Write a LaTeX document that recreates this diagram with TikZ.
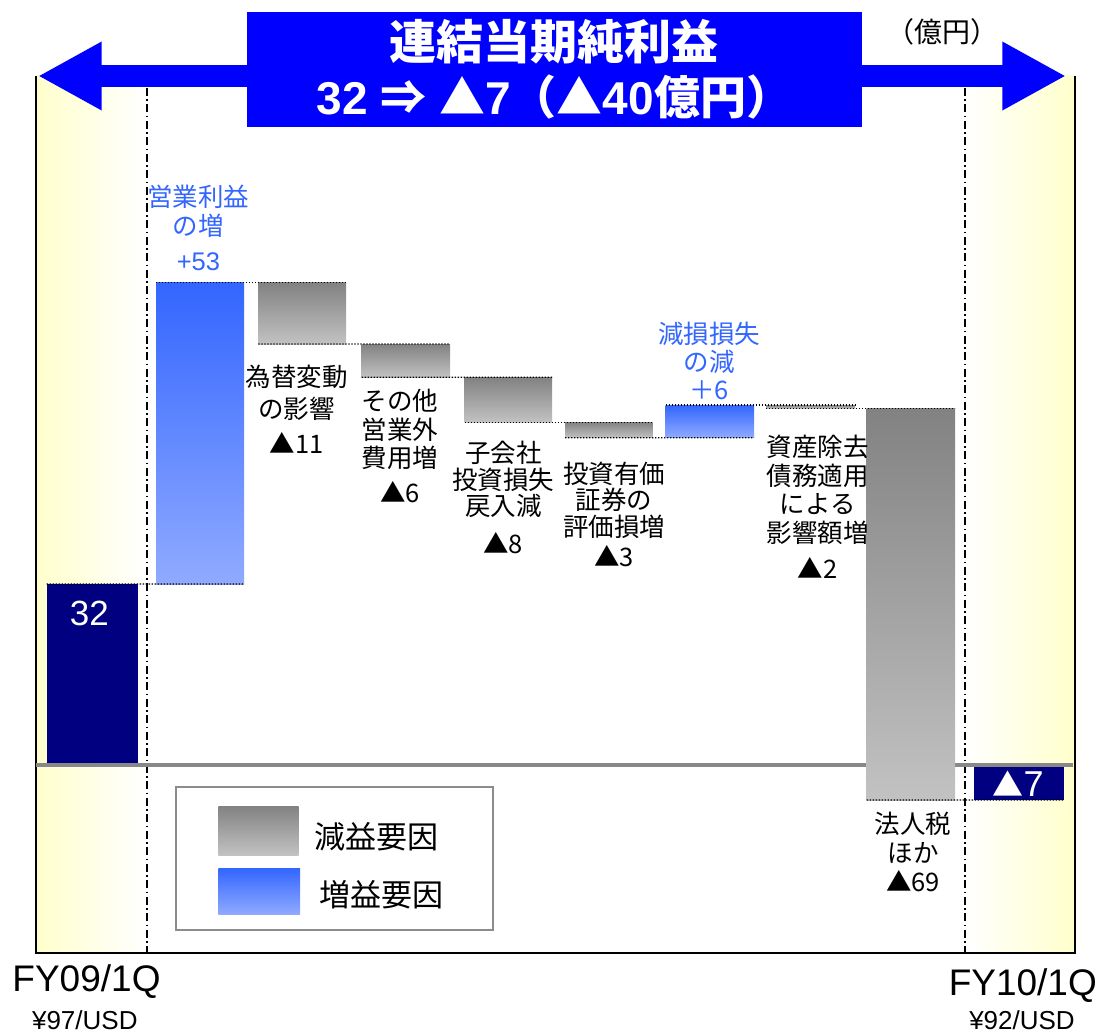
\documentclass[tikz,border=0pt]{standalone}
\usepackage{fontspec}
\setmainfont{Liberation Sans}
\newfontfamily\jp{Noto Sans CJK JP}
\usetikzlibrary{arrows.meta}
\definecolor{titleblue}{HTML}{0000FF}
\definecolor{navybar}{HTML}{000080}
\definecolor{decTop}{HTML}{828282}
\definecolor{decBot}{HTML}{C2C2C2}
\definecolor{incTop}{HTML}{3366FF}
\definecolor{incBot}{HTML}{90AAFF}
\definecolor{bandY}{HTML}{FFFFCC}
\definecolor{baseGray}{HTML}{888888}
\definecolor{labBlue}{HTML}{3366FF}
\definecolor{legGray}{HTML}{8C8C8C}
\begin{document}
\begin{tikzpicture}[x=1pt,y=-1pt,
  barnode/.style={inner sep=0pt, outer sep=0pt, anchor=north west},
  decbar/.style={barnode, top color=decTop, bottom color=decBot},
  incbar/.style={barnode, top color=incTop, bottom color=incBot},
  totbar/.style={barnode, fill=navybar},
  conn/.style={black, line width=1.3pt, dash pattern=on 1.3pt off 1.7pt},
  dashdot/.style={black, line width=2pt, dash pattern=on 8pt off 3.5pt on 1.5pt off 3.5pt},
  lab/.style={align=center, inner sep=0pt, anchor=north},
  bluearrow/.style={titleblue, line width=22.4pt, -{Triangle[length=63.7pt,width=64pt]}},
]
\useasboundingbox (0,0) rectangle (1097,1035);
% background bands
\fill[left color=bandY, right color=white] (36,76) rectangle (146.7,953);
\fill[left color=white, right color=bandY] (965,76) rectangle (1075,953);
% frame
\draw[line width=2pt] (36,76) -- (36,953) -- (1075,953) -- (1075,76);
% dash-dot lines
\draw[dashdot] (146.7,88) -- (146.7,953);
\draw[dashdot] (965,88) -- (965,953);
% zero line
\draw[baseGray, line width=4pt] (36,765) -- (1073,765);
% bars
\node[totbar, minimum width=91.6pt, minimum height=179pt] (b1) at (46.7,584) {};
\node[incbar, minimum width=88pt, minimum height=301.3pt] (b2) at (156,282.7) {};
\node[decbar, minimum width=87.7pt, minimum height=61.3pt] (b3) at (258.3,282.7) {};
\node[decbar, minimum width=88.3pt, minimum height=33.3pt] (b4) at (361.7,344) {};
\node[decbar, minimum width=87.5pt, minimum height=45pt] (b5) at (464.5,377.3) {};
\node[decbar, minimum width=87.7pt, minimum height=15.4pt] (b6) at (565,422.3) {};
\node[incbar, minimum width=88.3pt, minimum height=32.7pt] (b7) at (665.7,405) {};
\node[decbar, minimum width=89pt, minimum height=3.5pt] (b8) at (766,405) {};
\node[decbar, minimum width=88.3pt, minimum height=391.5pt] (b9) at (866.7,408.5) {};
\node[totbar, minimum width=90.3pt, minimum height=32.7pt] (b10) at (974,767.3) {};
% connectors
\draw[conn] (b1.north west) -- (b2.south east);
\draw[conn] (b2.north west) -- (b3.north east);
\draw[conn] (b3.south west) -- (b4.north east);
\draw[conn] (b4.south west) -- (b5.north east);
\draw[conn] (b5.south west) -- (b6.north east);
\draw[conn] (b6.south west) -- (b7.south east);
\draw[conn] (b7.north west) -- (b8.north east);
\draw[conn] (b8.south west) -- (b9.north east);
\draw[conn] (b9.south west) -- (b10.south east);
% values in total bars
\node[text=white, inner sep=0pt, font=\fontsize{35}{40}\selectfont] (v1) at (89.4,613.3) {32};
\node[text=white, inner sep=0pt] (v10) at (1018,784) {{\jp\fontsize{31}{34}\selectfont ▲}{\fontsize{36}{40}\selectfont 7}};
% labels
\node[lab, text=labBlue, font=\jp\fontsize{25.5}{28.3}\selectfont] (lg) at (198.4,185.2) {営業利益\\の増\\[6.7pt]{\rmfamily +53}};
\node[lab, font=\jp\fontsize{25.5}{32}\selectfont] (l3) at (296.7,364.5) {為替変動\\の影響\\[3.7pt]▲11};
\node[lab, font=\jp\fontsize{25.5}{28.3}\selectfont] (l4) at (400,389.2) {その他\\営業外\\費用増\\[7pt]▲6};
\node[lab, font=\jp\fontsize{25.5}{26.3}\selectfont] (l5) at (503.3,441.2) {子会社\\投資損失\\戻入減\\[12pt]▲8};
\node[lab, font=\jp\fontsize{25.5}{26.8}\selectfont] (l6) at (614,461.5) {投資有価\\証券の\\評価損増\\[3.2pt]▲3};
\node[lab, text=labBlue, font=\jp\fontsize{25.5}{28}\selectfont] (l7) at (709,321.8) {減損損失\\の減\\＋6};
\node[lab, font=\jp\fontsize{25.5}{28.5}\selectfont] (l8) at (817.7,435.2) {資産除去\\債務適用\\による\\影響額増\\[7.5pt]▲2};
\node[lab, font=\jp\fontsize{25.5}{28.8}\selectfont] (l9) at (913,811.8) {法人税\\ほか\\▲69};
% unit
\node[inner sep=0pt, font=\jp\fontsize{28}{30}\selectfont] (unit) at (942,31.7) {（億円）};
% legend
\node[draw=legGray, line width=2pt, inner sep=0pt, minimum width=316.7pt, minimum height=143pt, anchor=north west] (legend) at (175,786) {};
\node[decbar, minimum width=80.4pt, minimum height=49pt] (sw1) at (218.3,806) {};
\node[incbar, minimum width=81.7pt, minimum height=46pt] (sw2) at (218.3,868.3) {};
\node[inner sep=0pt, font=\jp\fontsize{31}{34}\selectfont] (t1) at (376,836.7) {減益要因};
\node[inner sep=0pt, font=\jp\fontsize{31}{34}\selectfont] (t2) at (381.5,895) {増益要因};
% axis labels
\node[anchor=base, inner sep=0pt, font=\fontsize{37}{42}\selectfont] (fy09) at (86.5,991.7) {FY09/1Q};
\node[anchor=base, inner sep=0pt, font=\fontsize{26}{30}\selectfont] (usd09) at (84.8,1029) {¥97/USD};
\node[anchor=base, inner sep=0pt, font=\fontsize{37}{42}\selectfont] (fy10) at (1022.8,995) {FY10/1Q};
\node[anchor=base, inner sep=0pt, font=\fontsize{26}{30}\selectfont] (usd10) at (1022,1029) {¥92/USD};
% title and arrows
\coordinate (tipL) at (38,76);
\coordinate (tipR) at (1066,76);
\node[fill=titleblue, inner sep=0pt, minimum width=614.6pt, minimum height=114.7pt] (title) at (554.3,69.35) {};
\draw[bluearrow] (title.west |- tipL) -- (tipL);
\draw[bluearrow] (title.east |- tipR) -- (tipR);
\node[fill=titleblue, inner sep=0pt, minimum width=614.6pt, minimum height=114.7pt] (titlebox) at (title.center) {};
\node[text=white, align=center, inner sep=0pt, font=\bfseries\fontsize{46}{55}\selectfont] (titletext) at (title.center)
  {{\jp\fontsize{47}{55}\selectfont 連結当期純利益}\\32 {\jp ⇒} {\jp ▲}7{\jp （▲}40{\jp 億円）}};
\end{tikzpicture}
\end{document}
